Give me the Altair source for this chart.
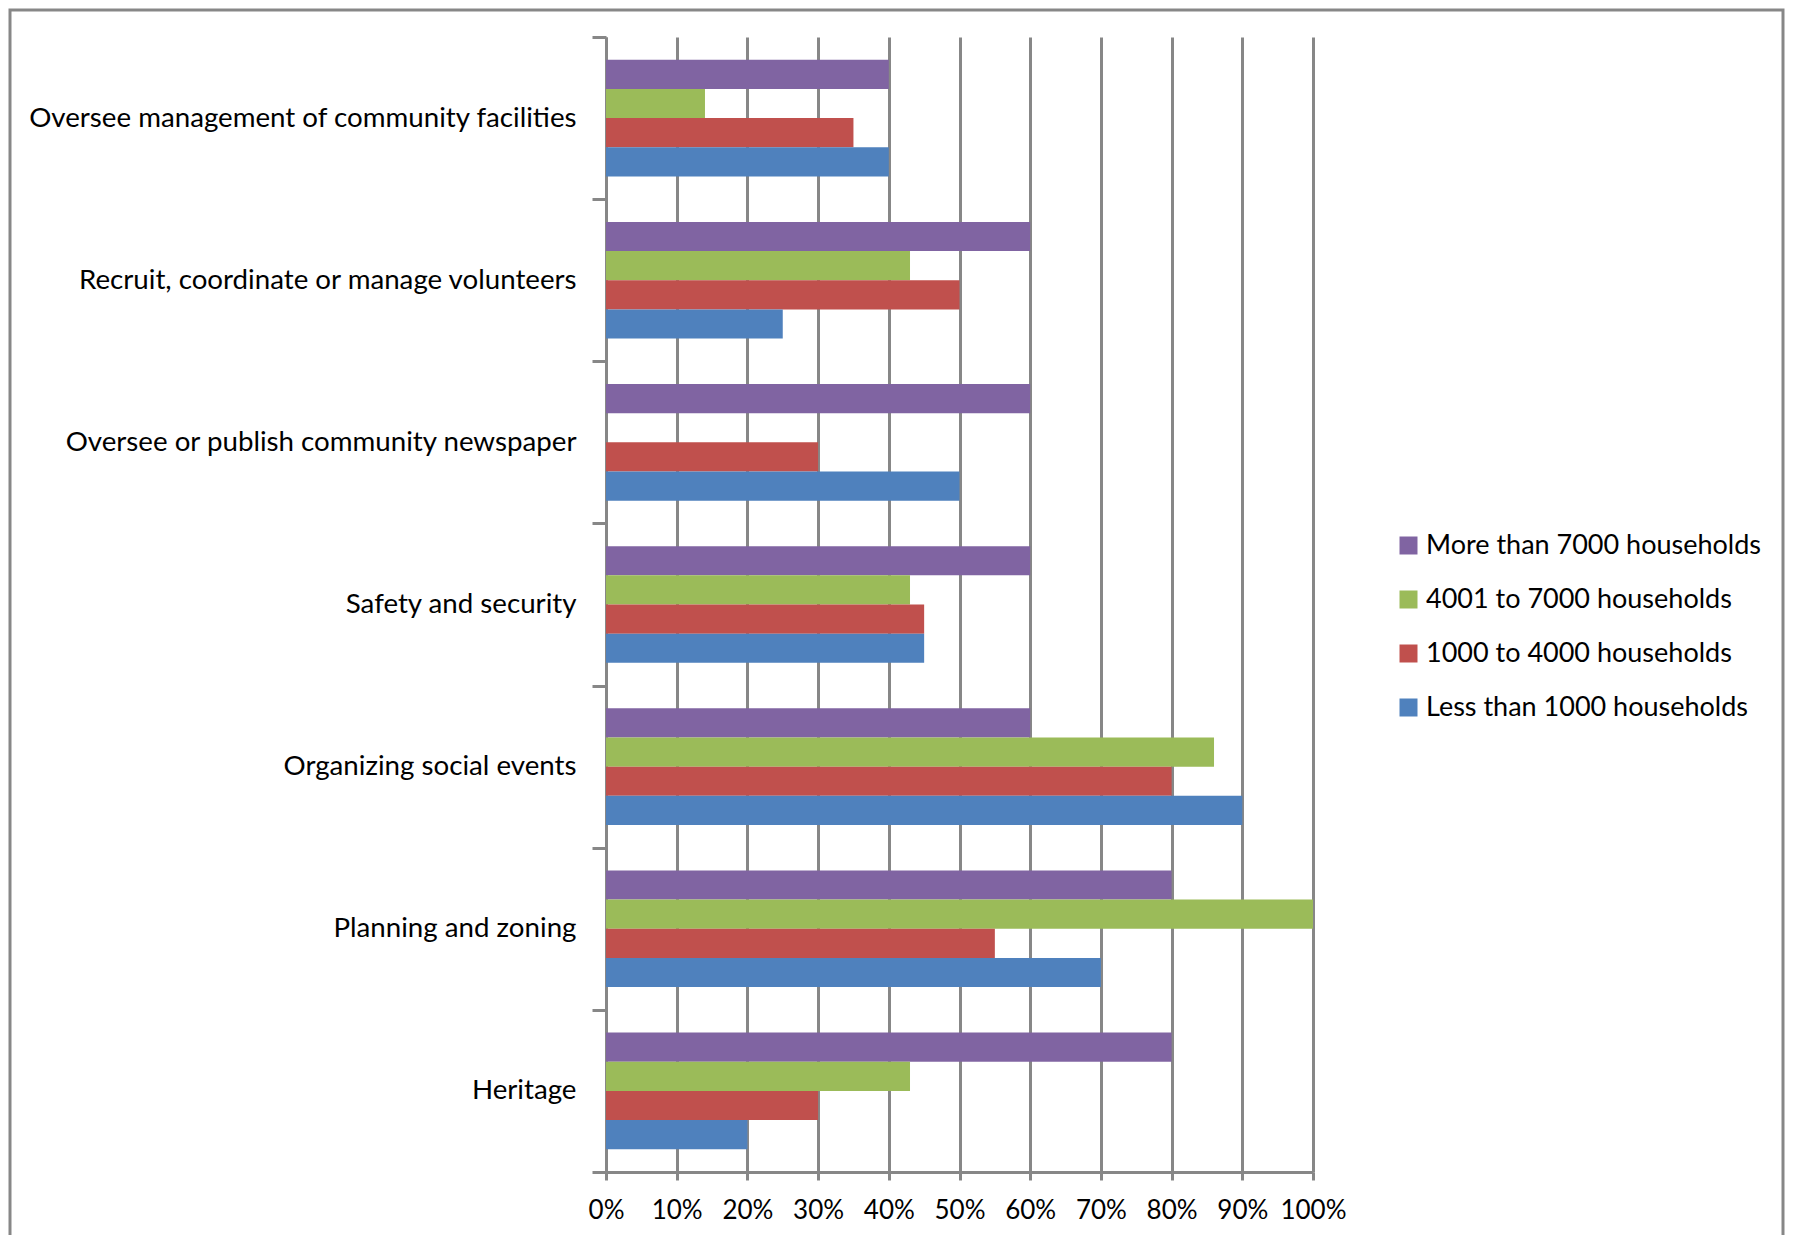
import altair as alt
import pandas as pd

categories = [
    "Oversee management of community facilities",
    "Recruit, coordinate or manage volunteers",
    "Oversee or publish community newspaper",
    "Safety and security",
    "Organizing social events",
    "Planning and zoning",
    "Heritage",
]
series = [
    "More than 7000 households",
    "4001 to 7000 households",
    "1000 to 4000 households",
    "Less than 1000 households",
]
more_than_7000 = [40, 60, 60, 60, 60, 80, 80]
from_4001_to_7000 = [14, 43, None, 43, 86, 100, 43]
from_1000_to_4000 = [35, 50, 30, 45, 80, 55, 30]
less_than_1000 = [40, 25, 50, 45, 90, 70, 20]
colors = ["#8064A2", "#9BBB59", "#C0504D", "#4F81BD"]
tick_values = [0, 0.1, 0.2, 0.3, 0.4, 0.5, 0.6, 0.7, 0.8, 0.9, 1.0]

rows = []
for s, vals in zip(series, [more_than_7000, from_4001_to_7000, from_1000_to_4000, less_than_1000]):
    for c, v in zip(categories, vals):
        if v is not None:
            rows.append({"category": c, "series": s, "value": v / 100})
df = pd.DataFrame(rows)

W, H = 707, 1135
GRAY = "#878787"
FONT = "Lato"

bars = alt.Chart(df).mark_bar().encode(
    x=alt.X(
        "value:Q",
        scale=alt.Scale(domain=[0, 1]),
        axis=alt.Axis(
            format="%", values=tick_values, title=None, grid=True,
            gridColor=GRAY, gridWidth=3, domainColor=GRAY, domainWidth=3,
            tickColor=GRAY, tickWidth=3, tickSize=8, labelFontSize=26,
            labelFont=FONT, labelColor="black", labelPadding=17,
            labelOverlap=False, labelFlush=False, labelBound=False,
        ),
    ),
    y=alt.Y(
        "category:N", sort=categories,
        scale=alt.Scale(paddingInner=0, paddingOuter=0),
        axis=alt.Axis(
            title=None, tickBand="extent", tickColor=GRAY, tickWidth=3,
            tickSize=14, domainColor=GRAY, domainWidth=3, labelFontSize=27.7,
            labelFont=FONT, labelColor="black", labelPadding=16, labelLimit=0,
        ),
    ),
    yOffset=alt.YOffset(
        "series:N", sort=series,
        scale=alt.Scale(domain=series, paddingInner=0, paddingOuter=0.78),
    ),
    color=alt.Color(
        "series:N",
        scale=alt.Scale(domain=series, range=colors),
        legend=alt.Legend(
            title=None, orient="none", legendX=789, legendY=495,
            symbolType="square", symbolSize=324, symbolStrokeWidth=0,
            labelFontSize=27, labelFont=FONT, labelColor="black",
            rowPadding=26, padding=0, labelOffset=4, labelLimit=0,
        ),
    ),
)

border = alt.Chart(pd.DataFrame({"k": [0]})).mark_rect(
    fill=None, stroke=GRAY, strokeWidth=3
).encode(
    x=alt.value(-596), x2=alt.value(1177), y=alt.value(-27), y2=alt.value(1300)
)

chart = alt.layer(bars, border).properties(
    width=W, height=H,
    autosize=alt.AutoSizeParams(type="none"),
    padding={"left": 598, "top": 29, "right": 472, "bottom": 63},
).configure_view(stroke=None)

chart.save("out.html", embed_options={"renderer": "svg", "actions": False})
